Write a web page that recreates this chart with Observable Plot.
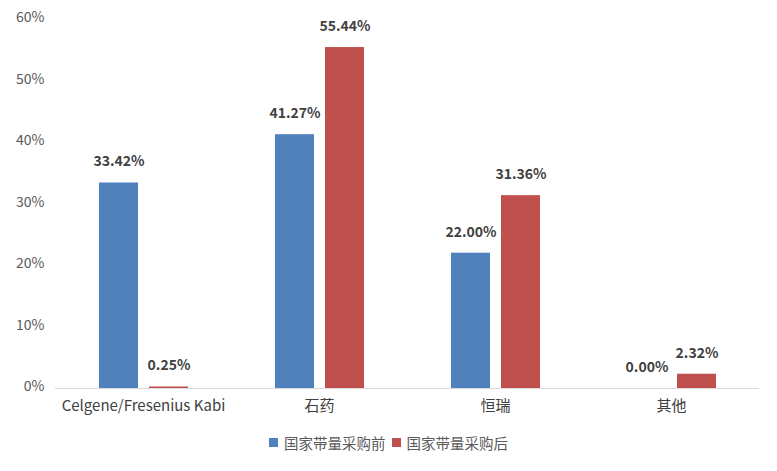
<!DOCTYPE html>
<html>
<head>
<meta charset="utf-8">
<script src="https://cdn.jsdelivr.net/npm/d3@7"></script>
<script src="https://cdn.jsdelivr.net/npm/@observablehq/plot@0.6"></script>
<style>
  body { margin: 0; background: #fff; font-family: "Noto Sans CJK SC", "Noto Sans", sans-serif; }
  #legend { display: flex; justify-content: center; align-items: center; gap: 6px; font-size: 14.5px; color: #595959; margin-top: 7px; padding-left: 0px; }
  .sw { display: inline-block; width: 9px; height: 9px; margin-right: 6px; }
  .item { display: flex; align-items: center; }
</style>
</head>
<body>
<div id="chart"></div>
<div id="legend"></div>
<script>
const categories = ["Celgene/Fresenius Kabi", "石药", "恒瑞", "其他"];
const seriesNames = ["国家带量采购前", "国家带量采购后"];
const before = [33.42, 41.27, 22.00, 0.00];
const after = [0.25, 55.44, 31.36, 2.32];
const yTicks = [0, 10, 20, 30, 40, 50, 60];
const colors = ["#4f81bd", "#c0504d"];

const data = [];
categories.forEach((c, i) => {
  data.push({cat: c, series: seriesNames[0], value: before[i]});
  data.push({cat: c, series: seriesNames[1], value: after[i]});
});

const chart = Plot.plot({
  width: 777,
  height: 425,
  marginTop: 19,
  marginBottom: 37,
  marginLeft: 55,
  marginRight: 18,
  style: {fontFamily: "'Noto Sans CJK SC', 'Noto Sans', sans-serif", fontSize: "14px", color: "#595959", background: "#fff"},
  fx: {domain: categories, padding: 0, label: null},
  x: {domain: seriesNames, axis: null, paddingInner: 0.22, paddingOuter: 0.87},
  y: {domain: [0, 60], label: null},
  color: {domain: seriesNames, range: colors},
  marks: [
    Plot.axisY({ticks: yTicks, tickFormat: d => d + "%", tickSize: 0, tickPadding: 11, label: null, fontSize: 14, dy: -1.5}),
    Plot.axisFx({anchor: "bottom", tickSize: 0, tickPadding: 12, label: null, fontSize: 15, fill: "#404040"}),
    Plot.barY(data, {fx: "cat", x: "series", y: "value", fill: "series"}),
    Plot.ruleY([0], {stroke: "#d9d9d9", strokeWidth: 1}),
    Plot.text(data, {fx: "cat", x: "series", y: "value", text: d => d.value.toFixed(2) + "%", dy: -21, fill: "#404040", fontSize: 14, fontWeight: 600})
  ]
});
document.getElementById("chart").appendChild(chart);

const legend = document.getElementById("legend");
seriesNames.forEach((s, i) => {
  const it = document.createElement("span");
  it.className = "item";
  it.innerHTML = `<span class="sw" style="background:${colors[i]}"></span>${s}`;
  legend.appendChild(it);
});
</script>
</body>
</html>
